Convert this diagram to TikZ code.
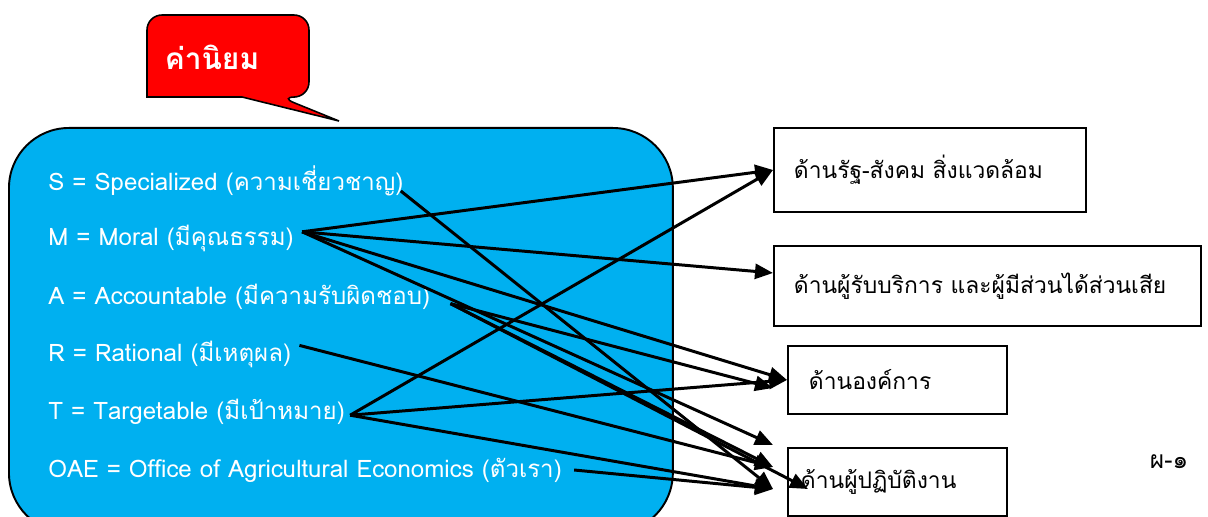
\documentclass[tikz,border=0pt]{standalone}
\usepackage{fontspec}
\newfontfamily\thaifont[Script=Thai]{Loma}
\usetikzlibrary{calc, positioning, arrows.meta}
\definecolor{valblue}{RGB}{0,176,240}

\begin{document}
\begin{tikzpicture}[x=0.02cm, y=-0.02cm, font=\thaifont\fontsize{13}{15}\selectfont,
		valtext/.style={anchor=west, text=white, inner sep=0pt, font=\thaifont\fontsize{13.7}{15}\selectfont},
		sidebox/.style={draw, line width=1.1pt, anchor=north west, align=left, inner xsep=0.4cm},
		link/.style={line width=1.7pt, -{Triangle[length=0.36cm, width=0.3cm]}}]
		\useasboundingbox (0,0) rectangle (1208,517);
		% callout
		\draw[fill=red, line width=0.9pt] (147,56) [rounded corners=0.3cm] -- (147,15) -- (309,15) -- (309,97) -- (280,97) [sharp corners] -- (339,121) -- (242,97) -- (147,97) [rounded corners=0.3cm] -- cycle;
		\node[text=white, font=\thaifont\bfseries\fontsize{17}{20}\selectfont] (cn) at (212,57) {ค่านิยม};
		
		% values box
		\node[draw, fill=valblue, line width=1.1pt, rounded corners=1.2cm, anchor=north west,
			minimum width=13.28cm, minimum height=8.1cm] (vals) at (8,127) {};
		\foreach \n/\t [count=\i] in {s/{S = Specialized (ความเชี่ยวชาญ)}, m/{M = Moral (มีคุณธรรม)},
			a/{A = Accountable (มีความรับผิดชอบ)}, r/{R = Rational (มีเหตุผล)},
			t/{T = Targetable (มีเป้าหมาย)}, oae/{OAE = Office of Agricultural Economics (ตัวเรา)}} {
			\node[valtext] (\n) at (48,{181+(\i-1)*57.8}) {\t};
		};
		
		% sides
		\node[sidebox, minimum width=6.24cm, minimum height=1.68cm, text width=5.44cm] (b1) at (773,127) {ด้านรัฐ-สังคม สิ่งแวดล้อม};
		\node[sidebox, minimum width=8.54cm, minimum height=1.6cm, text width=7.74cm] (b2) at (773,245) {ด้านผู้รับบริการ และผู้มีส่วนได้ส่วนเสีย};
		\node[sidebox, minimum width=4.38cm, minimum height=1.36cm, text width=3.54cm, inner xsep=0.42cm] (b3) at (787,345) {ด้านองค์การ};
		\node[sidebox, minimum width=4.38cm, minimum height=1.36cm, text width=3.86cm, inner xsep=0.26cm] (b4) at (787,447) {ด้านผู้ปฏิบัติงาน};
		\node[font=\thaifont\fontsize{14}{16}\selectfont] (p1) at (1169,462) {ผ-๑};
		
		% free arrow ends
		\coordinate (h4) at (773,388);
		\coordinate (h5) at (773,445);
		\coordinate (h6) at (773,467);
		\coordinate (h7) at (773,489);
		\coordinate (h8) at (808,489);
		
		\draw[link] ($(s.east)+(-3,10)$) -- (h7);
		\draw[link] ($(m.east)+(8,-7)$) -- (b1.west);
		\draw[link] ($(m.east)+(8,-7)$) -- ([yshift=0.26cm]b2.west);
		\draw[link] ($(m.east)+(8,-7)$) -- (b3.west);
		\draw[link] ($(m.east)+(8,-7)$) -- (h5);
		\draw[link] ($(a.east)+(20,7)$) -- (h4);
		\draw[link] ($(a.east)+(20,7)$) -- (h6);
		\draw[link] ($(a.east)+(20,7)$) -- (h8);
		\draw[link] ($(r.east)+(8,-9)$) -- (h6);
		\draw[link] ($(t.east)+(5,3)$) -- (b1.west);
		\draw[link] ($(t.east)+(5,3)$) -- (b3.west);
		\draw[link] ($(t.east)+(5,3)$) -- (h7);
		\draw[link] ($(oae.east)+(12,0)$) -- (h7);
	\end{tikzpicture}
\end{document}
